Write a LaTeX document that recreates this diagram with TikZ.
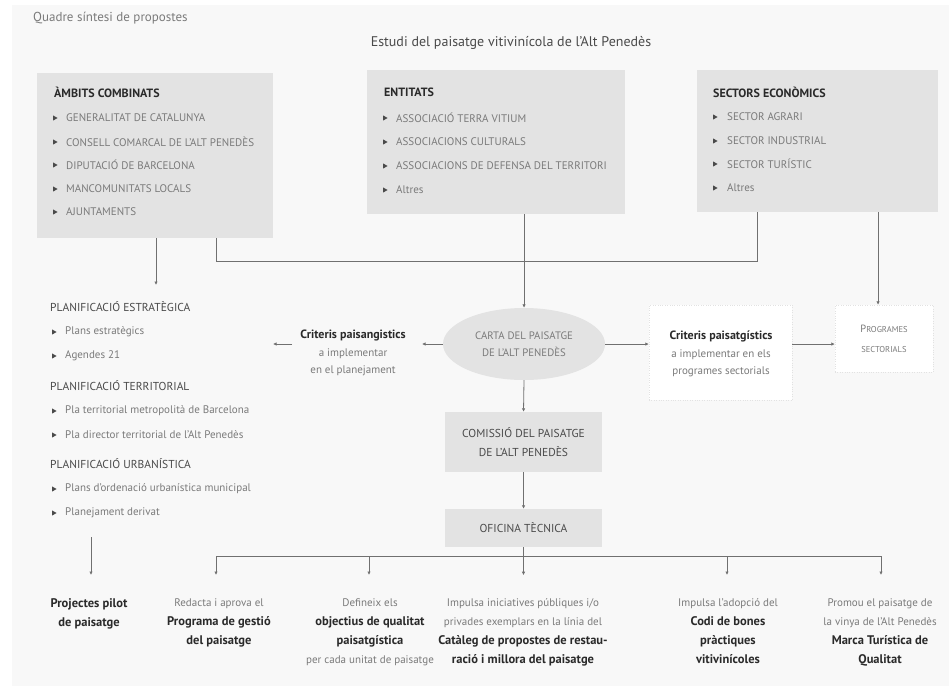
\documentclass[tikz,border=0pt]{standalone}
\usepackage{fontspec}
\setmainfont{PT Sans}
\usetikzlibrary{shapes.geometric,arrows.meta}
\definecolor{bgc}{HTML}{F8F8F8}
\definecolor{boxg}{HTML}{E3E3E3}
\definecolor{lightt}{HTML}{7A7A7A}
\definecolor{darkt}{HTML}{2A2A2A}
\definecolor{headt}{HTML}{4A4A4A}
\definecolor{linec}{HTML}{707070}
\definecolor{faint}{HTML}{E2E2E2}
\newcommand\fsz[2]{\fontsize{#1}{#2}\selectfont}
\newcommand\bt[1]{{\fsz{12}{19}\bfseries\color{darkt}#1}}
\newcommand\bb[1]{{\fsz{12.5}{19}\bfseries\color{darkt}#1}}
\tikzset{
  graybox/.style={fill=boxg, draw=none, inner sep=0pt},
  faintbox/.style={fill=white, draw=faint, dotted, inner sep=0pt},
  itm/.style={anchor=west, inner sep=0pt, text=lightt, font=\fsz{11}{13}},
  hdr/.style={anchor=west, inner sep=0pt, text=darkt, font=\bfseries\fsz{12}{14}},
  planh/.style={anchor=west, inner sep=0pt, text=headt, font=\fsz{11.5}{13}},
  bul/.pic={\fill[headt] (-2,-2.6) -- (2.6,0) -- (-2,2.6) -- cycle;},
  lin/.style={draw=linec, line width=0.8pt},
  arr/.style={draw=linec, line width=0.8pt, -{Latex[length=3.5pt,width=3.5pt]}},
  btxt/.style={anchor=north, inner sep=0pt, align=center, text=lightt, font=\fsz{11}{19}},
  ctxt/.style={inner sep=0pt, align=center, text=lightt, font=\fsz{11}{17.5}},
}
\begin{document}
\begin{tikzpicture}[x=1pt,y=-1pt]
\useasboundingbox (0,0) rectangle (949,686);
\fill[white] (0,0) rectangle (949,686);
\fill[bgc] (12,5) rectangle (949,686);

% titles
\node[anchor=west, inner sep=0pt, text=lightt, font=\fsz{13}{15}] (qt) at (33,18) {Quadre síntesi de propostes};
\node[inner sep=0pt, text=headt, font=\fsz{14}{16}] (et) at (511,43) {Estudi del paisatge vitivinícola de l'Alt Penedès};

% top boxes
\node[graybox, minimum width=236pt, minimum height=165pt] (b1) at (155,155.5) {};
\node[graybox, minimum width=258pt, minimum height=144pt] (b2) at (496,142) {};
\node[graybox, minimum width=241pt, minimum height=142pt] (b3) at (817.5,141) {};

% box 1
\node[hdr] (h1) at (54,92) {ÀMBITS COMBINATS};
\pic at (55,118) {bul}; \node[itm] (i11) at (66,118) {GENERALITAT DE CATALUNYA};
\pic at (55,142) {bul}; \node[itm] (i12) at (66,142) {CONSELL COMARCAL DE L'ALT PENEDÈS};
\pic at (55,165) {bul}; \node[itm] (i13) at (66,165) {DIPUTACIÓ DE BARCELONA};
\pic at (55,189) {bul}; \node[itm] (i14) at (66,189) {MANCOMUNITATS LOCALS};
\pic at (55,212) {bul}; \node[itm] (i15) at (66,212) {AJUNTAMENTS};

% box 2
\node[hdr] (h2) at (384,92) {ENTITATS};
\pic at (385,118) {bul}; \node[itm] (i21) at (396,118) {ASSOCIACIÓ TERRA VITIUM};
\pic at (385,142) {bul}; \node[itm] (i22) at (396,142) {ASSOCIACIONS CULTURALS};
\pic at (385,166) {bul}; \node[itm] (i23) at (396,166) {ASSOCIACIONS DE DEFENSA DEL TERRITORI};
\pic at (385,190) {bul}; \node[itm] (i24) at (396,190) {Altres};

% box 3
\node[hdr] (h3) at (713,92) {SECTORS ECONÒMICS};
\pic at (715,117) {bul}; \node[itm] (i31) at (727,117) {SECTOR AGRARI};
\pic at (715,141) {bul}; \node[itm] (i32) at (727,141) {SECTOR INDUSTRIAL};
\pic at (715,164) {bul}; \node[itm] (i33) at (727,164) {SECTOR TURÍSTIC};
\pic at (715,188) {bul}; \node[itm] (i34) at (727,188) {Altres};

% left planning column
\node[planh] (p1) at (50,307) {PLANIFICACIÓ ESTRATÈGICA};
\pic at (54,332) {bul}; \node[itm] (p11) at (65,332) {Plans estratègics};
\pic at (54,356) {bul}; \node[itm] (p12) at (65,356) {Agendes 21};
\node[planh] (p2) at (50,386) {PLANIFICACIÓ TERRITORIAL};
\pic at (54,411) {bul}; \node[itm] (p21) at (65,411) {Pla territorial metropolità de Barcelona};
\pic at (54,435) {bul}; \node[itm] (p22) at (65,435) {Pla director territorial de l'Alt Penedès};
\node[planh] (p3) at (50,464) {PLANIFICACIÓ URBANÍSTICA};
\pic at (54,489) {bul}; \node[itm] (p31) at (65,489) {Plans d'ordenació urbanística municipal};
\pic at (54,513) {bul}; \node[itm] (p32) at (65,513) {Planejament derivat};

% middle row
\node[ellipse, fill=boxg, draw=none, minimum width=162pt, minimum height=72pt, inner sep=0pt,
      align=center, text=lightt, font=\fsz{10.8}{17}] (carta) at (524,344) {CARTA DEL PAISATGE\\DE L'ALT PENEDÈS};
\node[ctxt] (crit1) at (353,353) {\bt{Criteris paisangistics}\\a implementar\\en el planejament};
\node[faintbox, minimum width=143pt, minimum height=95pt] (crit2) at (720.5,352.5) {};
\node[ctxt] (crit2t) at (721,354) {\bt{Criteris paisatgístics}\\a implementar en els\\programes sectorials};
\node[faintbox, minimum width=98pt, minimum height=67pt, text=lightt, align=center, font=\fsz{10.5}{20}] (prog) at (884,338.5) {P{\fsz{8.5}{20}ROGRAMES}\\{\fsz{8.5}{20}SECTORIALS}};

% lower chain
\node[graybox, minimum width=157pt, minimum height=60pt, align=center, text=headt, font=\fsz{11.5}{19}] (com) at (523.5,442) {COMISSIÓ DEL PAISATGE\\DE L'ALT PENEDÈS};
\node[graybox, minimum width=157pt, minimum height=38pt, text=headt, font=\fsz{11.5}{13}] (ofi) at (523.5,528) {OFICINA TÈCNICA};

% bottom row texts
\node[btxt] (t1) at (89,598) {\bb{Projectes pilot}\\\bb{de paisatge}};
\node[btxt] (t2) at (219,598) {Redacta i aprova el\\\bb{Programa de gestió}\\\bb{del paisatge}};
\node[btxt] (t3) at (370,598) {Defineix els\\\bb{objectius de qualitat}\\\bb{paisatgística}\\per cada unitat de paisatge};
\node[btxt] (t4) at (523,598) {Impulsa iniciatives públiques i/o\\privades exemplars en la línia del\\\bb{Catàleg de propostes de restau-}\\\bb{ració i millora del paisatge}};
\node[btxt] (t5) at (728,598) {Impulsa l'adopció del\\\bb{Codi de bones}\\\bb{pràctiques}\\\bb{vitivinícoles}};
\node[btxt] (t6) at (880,598) {Promou el paisatge de\\la vinya de l'Alt Penedès\\\bb{Marca Turística de}\\\bb{Qualitat}};

% helper coordinates
\coordinate (a1) at (156,285);
\coordinate (bl) at (216,261);
\coordinate (br) at (757,261);
\coordinate (ax3) at (878,0);
\coordinate (c1e) at (422,344);
\coordinate (c1w) at (292,344);
\coordinate (c1x) at (273,344);
\coordinate (lp) at (91,537);
\coordinate (lpe) at (91,575);
\coordinate (busl) at (216,556);
\coordinate (busr) at (881,556);
\coordinate (d2) at (369,556);
\coordinate (d5) at (727,556);

% connectors
\draw[arr] (b1.south -| a1) -- (a1);
\draw[lin] (b1.south -| bl) -- (bl) -- (br) -- (b3.south -| br);
\draw[arr] (b2.south -| carta.north) -- (carta.north);
\draw[arr] (b3.south -| ax3) -- (prog.north -| ax3);
\draw[arr] (carta.west) -- (c1e);
\draw[arr] (c1w) -- (c1x);
\draw[arr] (carta.east) -- (carta.east -| crit2.west);
\draw[arr] (crit2.east |- carta.east) -- (prog.west |- carta.east);
\draw[arr] (carta.south) -- (com.north);
\draw[arr] (com.south) -- (ofi.north);
\draw[arr] (lp) -- (lpe);
\draw[lin] (busl) -- (busr);
\draw[arr] (ofi.south) -- ++(0,28);
\draw[arr] (busl) -- ++(0,19);
\draw[arr] (d2) -- ++(0,19);
\draw[arr] (d5) -- ++(0,19);
\draw[arr] (busr) -- ++(0,19);
\end{tikzpicture}
\end{document}
